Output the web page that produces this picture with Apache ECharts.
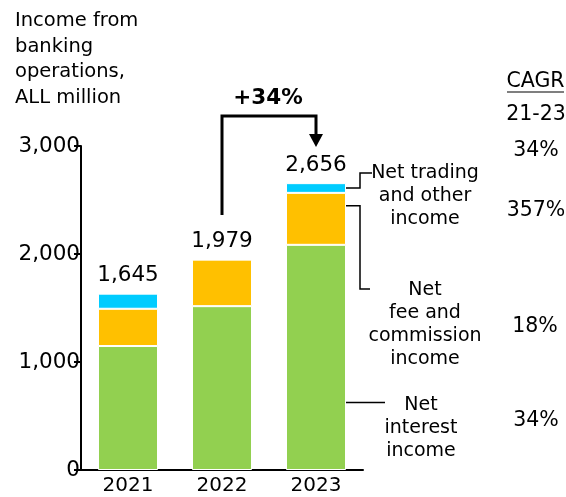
<!DOCTYPE html>
<html>
<head>
<meta charset="utf-8">
<script src="https://cdn.jsdelivr.net/npm/echarts@6/dist/echarts.min.js"></script>
<style>
  html, body { margin: 0; padding: 0; background: #fff; }
  #chart { width: 566px; height: 497px; }
</style>
</head>
<body>
<div id="chart"></div>
<script>
// data, ALL million
const years = ['2021', '2022', '2023'];
const netInterest = [1148, 1517, 2085];
const netFee = [345, 431, 481];
const netTrading = [140, 0, 90];
const totals = [1645, 1979, 2656];
const cagrLabels = ['34%', '357%', '18%', '34%'];
const growthLabel = '+34%';

const FONT = 'DejaVu Sans';
const fmt = v => v.toLocaleString('en-US');

const chart = echarts.init(document.getElementById('chart'));

function seg(name, data, color) {
  return {
    name: name,
    type: 'bar',
    stack: 'total',
    data: data,
    barWidth: 60,
    itemStyle: { color: color, borderColor: '#fff', borderWidth: 1 }
  };
}

const tradingSeries = seg('Net trading and other income', netTrading, '#00ccff');
tradingSeries.label = {
  show: true,
  position: 'top',
  distance: 7,
  fontFamily: FONT,
  fontSize: 21.5,
  color: '#000',
  formatter: p => fmt(totals[p.dataIndex])
};

chart.setOption({
  animation: false,
  grid: { left: 81, right: 203, top: 146, bottom: 27 },
  xAxis: {
    type: 'category',
    data: years,
    axisLine: { lineStyle: { color: '#000', width: 2 } },
    axisTick: { show: false },
    axisLabel: { fontFamily: FONT, fontSize: 20, color: '#000', margin: 6 }
  },
  yAxis: {
    type: 'value',
    min: 0,
    max: 3000,
    interval: 1000,
    splitLine: { show: false },
    axisLine: { show: true, lineStyle: { color: '#000', width: 2 } },
    axisTick: { show: true, length: 7, lineStyle: { color: '#000', width: 2 } },
    axisLabel: { fontFamily: FONT, fontSize: 21.5, color: '#000', margin: 1, formatter: fmt }
  },
  series: [
    seg('Net interest income', netInterest, '#92d050'),
    seg('Net fee and commission income', netFee, '#ffc000'),
    tradingSeries
  ]
});

// annotations positioned from the chart's own scale
const px = (i, v) => chart.convertToPixel({ seriesIndex: 0 }, [i, v]);
const x22 = px(1, 0)[0];
const x23 = px(2, 0)[0];
const topTrade = px(2, netInterest[2] + netFee[2] + netTrading[2] / 2)[1];
const midFee = px(2, netInterest[2] + netFee[2] * 0.75)[1];
const midInt = px(2, netInterest[2] * 0.3)[1];
const barEdge = x23 + 25;
const bend = x23 + 44;

const txt = (x, y, text, opts) => ({
  type: 'text',
  x: x,
  y: y,
  style: Object.assign({
    text: text,
    fontFamily: FONT,
    fontSize: 19,
    fill: '#000',
    align: 'center',
    verticalAlign: 'middle',
    lineHeight: 23
  }, opts || {})
});
const line = (pts, w) => ({
  type: 'polyline',
  shape: { points: pts },
  style: { stroke: '#000', lineWidth: w || 1.5, fill: null }
});

const bracketTop = 116;
const pct = { fontSize: 20.5 };
const graphics = [
  txt(15, 8, 'Income from\nbanking\noperations,\nALL million', { align: 'left', verticalAlign: 'top', lineHeight: 25.7, fontSize: 19.5 }),
  txt(268, 98, growthLabel, { fontSize: 21.5, fontWeight: 'bold' }),
  line([[x22, 215], [x22, bracketTop], [x23, bracketTop], [x23, 136]], 3),
  { type: 'polygon', shape: { points: [[x23 - 7, 134], [x23 + 7, 134], [x23, 147]] }, style: { fill: '#000' } },
  txt(535.5, 82, 'CAGR', pct),
  line([[507, 92], [564, 92]], 1.2),
  txt(536, 115, '21-23', pct),
  txt(536, 151, cagrLabels[0], pct),
  txt(536, 211, cagrLabels[1], pct),
  txt(535, 327, cagrLabels[2], pct),
  txt(536, 421, cagrLabels[3], pct),
  line([[barEdge, topTrade], [bend, topTrade], [bend, 173], [bend + 12, 173]]),
  txt(425, 196, 'Net trading\nand other\nincome'),
  line([[barEdge, midFee], [bend, midFee], [bend, 289], [bend + 10, 289]]),
  txt(425, 325, 'Net\nfee and\ncommission\nincome'),
  line([[barEdge, midInt], [x23 + 69, midInt]]),
  txt(421, 428, 'Net\ninterest\nincome')
];

chart.setOption({ graphic: graphics });
</script>
</body>
</html>
